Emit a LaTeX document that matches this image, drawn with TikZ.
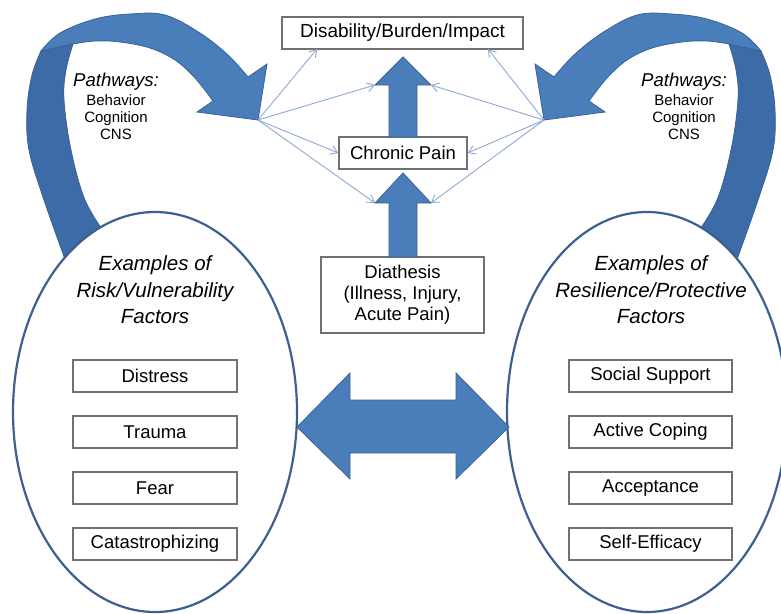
\documentclass[tikz,border=0pt]{standalone}
\usepackage{fontspec}
\setmainfont{Liberation Sans}
\usetikzlibrary{arrows.meta,shapes.geometric}
\definecolor{bandlight}{HTML}{4A7EBB}
\definecolor{banddark}{HTML}{3D6BA7}
\definecolor{bandline}{HTML}{3A6195}
\definecolor{ringblue}{HTML}{3C5F8F}
\definecolor{thinblue}{HTML}{8CA8D2}
\definecolor{boxgray}{HTML}{707070}

\tikzset{
  bendarrow/.pic={
    % back side of the ribbon, rising out of the oval
    \filldraw[fill=banddark, draw=bandline, line width=0.8pt, line join=round]
      plot[smooth, tension=0.6] coordinates {(41,51) (32,75) (27,110) (29,150) (44,200) (66,262)}
      -- plot[smooth, tension=0.6] coordinates {(106,235) (85,200) (71,150) (64,100) (66,70) (73,44)}
      -- cycle;
    % front side of the ribbon ending in the head
    \filldraw[fill=bandlight, draw=bandline, line width=0.8pt, line join=miter]
      plot[smooth, tension=0.6] coordinates {(41,51) (60,33) (95,19) (130,14) (165,15) (200,33) (228,55) (248,77)}
      -- (267,64) -- (258,120) -- (197,112)
      -- plot[smooth, tension=0.6] coordinates {(213,101) (195,78) (175,60) (150,48) (120,42) (95,41) (73,44)}
      -- cycle;
    \coordinate (-tip) at (258,120);
  }
}

\begin{document}
\begin{tikzpicture}[x=1pt,y=-1pt,
  labelbox/.style={draw=boxgray, line width=1.2pt, fill=white, inner sep=0pt,
    align=center, font=\fontsize{18.5}{21}\selectfont},
  fatarrow/.style={fill=bandlight, draw=bandline, line width=0.8pt, line join=miter},
  link/.style={draw=thinblue, line width=0.9pt, -{Straight Barb[length=7pt,width=9pt]}},
  ring/.style={ellipse, draw=ringblue, line width=2.2pt, fill=white, inner sep=0pt},
  ovaltitle/.style={font=\fontsize{20.5}{26.5}\itshape\selectfont, align=center, inner sep=0pt},
  pathtitle/.style={font=\fontsize{18.6}{20}\itshape\selectfont, inner sep=0pt},
  pathlist/.style={font=\fontsize{15}{17}\selectfont, align=center, inner sep=0pt}
]
\useasboundingbox (0,0) rectangle (781,613);

% curved ribbons
\pic (L) at (0,0) {bendarrow};
\pic[xscale=-1] (R) at (802,0) {bendarrow};

% ovals
\node[ring, minimum width=284pt, minimum height=400pt] (riskOval) at (155,412) {};
\node[ring, minimum width=280pt, minimum height=400pt] (resOval) at (647,412) {};

% pathway labels
\node[pathtitle] (pathL) at (116,82) {Pathways:};
\node[pathlist] (listL) at (116,117) {Behavior\\Cognition\\CNS};
\node[pathtitle] (pathR) at (684,82) {Pathways:};
\node[pathlist] (listR) at (684,117) {Behavior\\Cognition\\CNS};

% central column
\node[labelbox, minimum width=241pt, minimum height=32pt, font=\fontsize{19}{22}\selectfont] (dis) at (402.5,33) {Disability/Burden/Impact};
\node[labelbox, minimum width=128pt, minimum height=32pt] (chronic) at (403,153) {Chronic Pain};
\node[labelbox, minimum width=163pt, minimum height=76pt] (dia) at (402.5,295) {Diathesis\\(Illness, Injury,\\Acute Pain)};

% block arrows
\coordinate (uHL) at (375,85);
\coordinate (uHR) at (431,85);
\coordinate (lHL) at (375,203);
\coordinate (lHR) at (431,203);
\draw[fatarrow] (389,137) -- (389,85) -- (uHL) -- (403,57) -- (uHR) -- (417,85) -- (417,137) -- cycle;
\draw[fatarrow] (389,257) -- (389,203) -- (lHL) -- (403,173) -- (lHR) -- (417,203) -- (417,257) -- cycle;
\draw[fatarrow] (297,427) -- (350,373) -- (350,400) -- (456,400) -- (456,373) -- (509,427)
  -- (456,479) -- (456,453) -- (350,453) -- (350,479) -- cycle;

% thin links from the ribbon heads
\coordinate (dL) at (317,49);
\coordinate (dR) at (488,49);
\draw[link] (L-tip) -- (dL);
\draw[link] (L-tip) -- (uHL);
\draw[link] (L-tip) -- (chronic.west);
\draw[link] (L-tip) -- (lHL);
\draw[link] (R-tip) -- (dR);
\draw[link] (R-tip) -- (uHR);
\draw[link] (R-tip) -- (chronic.east);
\draw[link] (R-tip) -- (lHR);

% oval contents
\node[ovaltitle] (riskTitle) at (155,290) {Examples of\\Risk/Vulnerability\\Factors};
\node[ovaltitle] (resTitle) at (651,290) {Examples of\\Resilience/Protective\\Factors};

\foreach \name/\txt/\yy in {rA/Distress/376, rB/Trauma/432, rC/Fear/488, rD/Catastrophizing/544}
  \node[labelbox, minimum width=164pt, minimum height=32pt] (\name) at (155,\yy) {\txt};
\foreach \name/\txt/\yy in {pA/Social Support/376, pB/Active Coping/432, pC/Acceptance/488, pD/Self-Efficacy/544}
  \node[labelbox, minimum width=163pt, minimum height=32pt] (\name) at (650.5,\yy) {\txt};
\end{tikzpicture}
\end{document}
